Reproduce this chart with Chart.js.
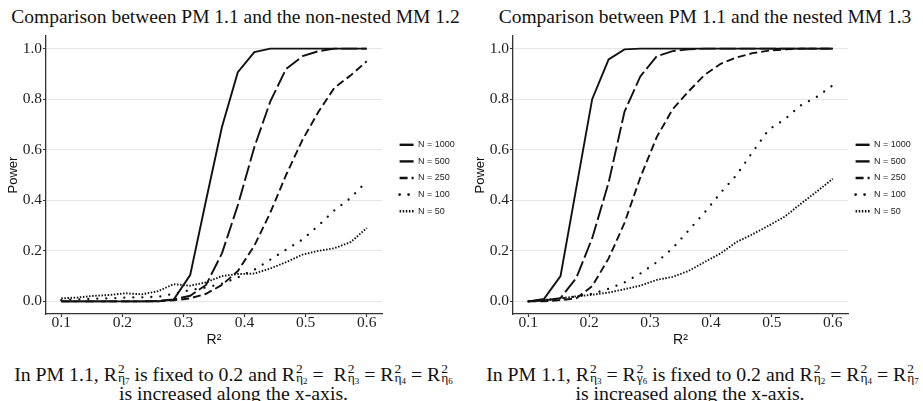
<!DOCTYPE html>
<html>
<head>
<meta charset="utf-8">
<script src="https://cdn.jsdelivr.net/npm/chart.js@4.4.1/dist/chart.umd.min.js"></script>
<style>
  body { margin: 0; background: #fff; width: 923px; height: 401px; overflow: hidden; position: relative;
         font-family: "Liberation Serif", "Times New Roman", serif; color: #111; }
  canvas { position: absolute; top: 0; }
  .txt { position: absolute; text-align: center; white-space: nowrap; font-size: 19.5px; line-height: 22px; }
  .cap { font-size: 19.8px; }
  .ss { display: inline-flex; flex-direction: column; font-size: 13.5px; line-height: 9px;
        vertical-align: 8px; text-align: left; margin-left: 1px; }
  .ss i { font-style: normal; font-size: 9px; position: relative; top: 2px; }
</style>
</head>
<body>

<div class="txt" style="left:2px;width:467px;top:6px">Comparison between PM 1.1 and the non-nested MM 1.2</div>
<div class="txt" style="left:467px;width:476px;top:6px">Comparison between PM 1.1 and the nested MM 1.3</div>

<canvas id="left" width="466" height="352" style="left:0"></canvas>
<canvas id="right" width="456" height="352" style="left:467px"></canvas>

<div class="txt cap" style="left:0;width:467px;top:363px">In PM 1.1, R<span class="ss"><span>2</span><span>η<i>7</i></span></span> is fixed to 0.2 and R<span class="ss"><span>2</span><span>η<i>2</i></span></span> =&nbsp; R<span class="ss"><span>2</span><span>η<i>3</i></span></span> = R<span class="ss"><span>2</span><span>η<i>4</i></span></span> = R<span class="ss"><span>2</span><span>η<i>6</i></span></span></div>
<div class="txt cap" style="left:0;width:467px;top:382px">is increased along the x-axis.</div>
<div class="txt cap" style="left:467px;width:471px;top:363px">In PM 1.1, R<span class="ss"><span>2</span><span>η<i>3</i></span></span> = R<span class="ss"><span>2</span><span>γ<i>6</i></span></span> is fixed to 0.2 and R<span class="ss"><span>2</span><span>η<i>2</i></span></span> = R<span class="ss"><span>2</span><span>η<i>4</i></span></span> = R<span class="ss"><span>2</span><span>η<i>7</i></span></span></div>
<div class="txt cap" style="left:467px;width:446px;top:382px">is increased along the x-axis.</div>

<script>
// R² values on the x-axis (20 simulation points)
const r2 = [0.100, 0.126, 0.153, 0.179, 0.205, 0.232, 0.258, 0.284, 0.311, 0.337,
            0.363, 0.389, 0.416, 0.442, 0.468, 0.495, 0.521, 0.547, 0.574, 0.600];

const sampleLabels = ['N = 1000', 'N = 500', 'N = 250', 'N = 100', 'N = 50'];

// PM 1.1 vs non-nested MM 1.2
const leftN1000 = [0, 0, 0, 0, 0, 0, 0, 0.007, 0.104, 0.40, 0.69, 0.907, 0.986, 1, 1, 1, 1, 1, 1, 1];
const leftN500  = [0, 0, 0, 0, 0, 0, 0.002, 0.008, 0.022, 0.065, 0.19, 0.38, 0.61, 0.79, 0.92, 0.97, 0.99, 1, 1, 1];
const leftN250  = [0, 0, 0, 0, 0, 0, 0, 0.004, 0.012, 0.03, 0.065, 0.12, 0.22, 0.35, 0.50, 0.64, 0.75, 0.845, 0.895, 0.95];
const leftN100  = [0.005, 0.008, 0.01, 0.012, 0.015, 0.016, 0.018, 0.03, 0.045, 0.055, 0.07, 0.095, 0.125, 0.165, 0.205, 0.245, 0.30, 0.36, 0.41, 0.475];
const leftN50   = [0.012, 0.015, 0.022, 0.025, 0.032, 0.028, 0.04, 0.068, 0.062, 0.075, 0.10, 0.108, 0.11, 0.13, 0.155, 0.185, 0.2, 0.21, 0.235, 0.29];

// PM 1.1 vs nested MM 1.3
const rightN1000 = [0, 0.01, 0.10, 0.45, 0.80, 0.957, 0.997, 1, 1, 1, 1, 1, 1, 1, 1, 1, 1, 1, 1, 1];
const rightN500  = [0, 0.003, 0.013, 0.093, 0.25, 0.47, 0.75, 0.89, 0.97, 0.99, 0.997, 1, 1, 1, 1, 1, 1, 1, 1, 1];
const rightN250  = [0, 0, 0.005, 0.012, 0.06, 0.17, 0.31, 0.49, 0.65, 0.76, 0.83, 0.895, 0.94, 0.965, 0.982, 0.992, 0.997, 1, 1, 1];
const rightN100  = [0, 0.005, 0.01, 0.02, 0.03, 0.05, 0.075, 0.11, 0.155, 0.21, 0.28, 0.35, 0.43, 0.50, 0.59, 0.68, 0.72, 0.775, 0.81, 0.855];
const rightN50   = [0, 0.005, 0.012, 0.02, 0.026, 0.035, 0.048, 0.062, 0.085, 0.097, 0.12, 0.155, 0.19, 0.235, 0.265, 0.30, 0.335, 0.385, 0.435, 0.485];

const xTicks = [0.1, 0.2, 0.3, 0.4, 0.5, 0.6];
const yTicks = [0, 0.2, 0.4, 0.6, 0.8, 1.0];

// line types: solid, longdash, dashed, sparse dots, dense dots
const lineStyles = [
  { dash: [], width: 1.9, cap: 'butt' },
  { dash: [16, 4], width: 1.9, cap: 'butt' },
  { dash: [8, 4], width: 1.9, cap: 'butt' },
  { dash: [0.01, 9], width: 2.3, cap: 'round' },
  { dash: [1.5, 1.6], width: 1.9, cap: 'butt' }
];

// ggplot puts the legend a bit off the panel; move it after layout
const nudgeLegend = {
  id: 'nudgeLegend',
  afterLayout(chart, args, opts) {
    const lg = chart.legend;
    lg.left += opts.dx; lg.right += opts.dx;
    lg.top += opts.dy; lg.bottom += opts.dy;
  }
};

Chart.defaults.font.family = '"Liberation Sans", Arial, sans-serif';
Chart.defaults.color = '#222';

const serifTicks = { family: '"Liberation Serif", "Times New Roman", serif', size: 15.5 };

// legend keys take the line dash of the dataset, drawn a little heavier
function legendKeys(chart) {
  return Chart.defaults.plugins.legend.labels.generateLabels(chart).map(item => {
    const ds = chart.data.datasets[item.datasetIndex];
    return { ...item, lineDash: ds.borderDash, lineCap: ds.borderCapStyle, lineWidth: ds.borderWidth + 0.5 };
  });
}

function powerChart(canvasId, series, legendDx, padRight) {
  const datasets = series.map((vals, i) => ({
    label: sampleLabels[i],
    data: r2.map((x, j) => ({ x: x, y: vals[j] })),
    borderColor: '#111',
    borderWidth: lineStyles[i].width,
    borderDash: lineStyles[i].dash,
    borderCapStyle: lineStyles[i].cap,
    pointRadius: 0,
    tension: 0,
    fill: false
  }));

  return new Chart(document.getElementById(canvasId), {
    type: 'line',
    data: { datasets: datasets },
    options: {
      responsive: false,
      animation: false,
      layout: { padding: { top: 36, left: 0, right: padRight, bottom: 0 } },
      scales: {
        x: {
          type: 'linear',
          min: 0.075, max: 0.625,
          afterBuildTicks: s => { s.ticks = xTicks.map(v => ({ value: v })); },
          afterFit: s => { s.height = 38; },
          grid: { drawOnChartArea: false, drawTicks: true, tickLength: 3, tickColor: '#333', tickWidth: 1.2 },
          border: { display: true, color: '#333', width: 1.3 },
          ticks: {
            padding: 0,
            maxRotation: 0,
            color: '#222',
            font: { ...serifTicks, lineHeight: 0.8 },
            callback: v => v.toFixed(1)
          },
          title: {
            display: true, text: 'R²', color: '#111',
            font: { size: 14 }, padding: { top: 0, bottom: 3 }
          }
        },
        y: {
          min: -0.05, max: 1.05,
          afterBuildTicks: s => { s.ticks = yTicks.map(v => ({ value: v })); },
          afterFit: s => { s.width = 46; },
          grid: { color: '#e6e6e6', lineWidth: 1, tickLength: 3, tickColor: '#333', tickWidth: 1.2 },
          border: { display: true, color: '#333', width: 1.3 },
          ticks: {
            padding: 1,
            color: '#222',
            font: serifTicks,
            callback: v => v.toFixed(1)
          },
          title: {
            display: true, text: 'Power', color: '#111',
            font: { size: 13 }, padding: { top: 6, bottom: 0 }
          }
        }
      },
      plugins: {
        title: { display: false },
        tooltip: { enabled: false },
        nudgeLegend: { dx: legendDx, dy: 3 },
        legend: {
          position: 'right',
          fullSize: false,
          maxWidth: 70,
          labels: {
            usePointStyle: true,
            pointStyle: 'line',
            pointStyleWidth: 14,
            boxHeight: 6,
            padding: 7.6,
            color: '#222',
            font: { size: 9 },
            generateLabels: legendKeys
          }
        }
      }
    },
    plugins: [nudgeLegend]
  });
}

powerChart('left', [leftN1000, leftN500, leftN250, leftN100, leftN50], 10, 14);
powerChart('right', [rightN1000, rightN500, rightN250, rightN100, rightN50], 0, 5);
</script>
</body>
</html>
